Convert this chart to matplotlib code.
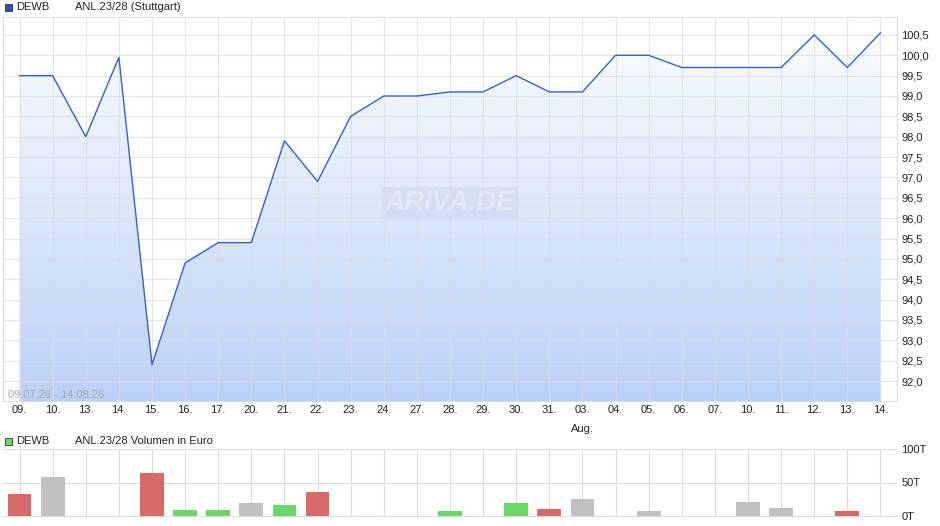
import matplotlib
matplotlib.use("Agg")
import matplotlib.pyplot as plt
import numpy as np
from matplotlib.patches import Rectangle

plt.rcParams['font.family'] = ['Liberation Sans', 'DejaVu Sans']

dates = ["09.", "10.", "13.", "14.", "15.", "16.", "17.", "20.", "21.", "22.", "23.", "24.",
         "27.", "28.", "29.", "30.", "31.", "03.", "04.", "05.", "06.", "07.", "10.", "11.",
         "12.", "13.", "14."]
prices = [99.5, 99.5, 98.0, 99.95, 92.4, 94.9, 95.4, 95.4, 97.9, 96.9, 98.5, 99.0,
          99.0, 99.1, 99.1, 99.5, 99.1, 99.1, 100.0, 100.0, 99.7, 99.7, 99.7, 99.7,
          100.5, 99.7, 100.55]
volumes = [33, 58, 0, 0, 64, 9, 9, 20, 16, 36, 0, 0,
           0, 7.5, 0, 19, 10.5, 25, 0, 7, 0, 0, 21, 12,
           0, 7, 0]
direction = ["down", "flat", "flat", "flat", "down", "up", "up", "flat", "up", "down", "flat", "flat",
             "flat", "up", "flat", "up", "down", "flat", "flat", "flat", "flat", "flat", "flat", "flat",
             "flat", "down", "flat"]
price_ticks = [92.0, 92.5, 93.0, 93.5, 94.0, 94.5, 95.0, 95.5, 96.0, 96.5, 97.0, 97.5,
               98.0, 98.5, 99.0, 99.5, 100.0, 100.5]
vol_ticks = [0, 50, 100]
vol_tick_labels = ["0T", "50T", "100T"]
month_label = "Aug."
month_index = 17

W, H = 940, 526
fig = plt.figure(figsize=(W / 100, H / 100), dpi=100)

def box(l, t, r, b):
    return [l / W, 1 - b / H, (r - l) / W, (b - t) / H]

grid_c = "#dcdcdc"
x = np.arange(len(dates))

# ---- main price axes
ax = fig.add_axes(box(3, 17, 897, 401))
ymin, ymax = 91.51, 100.94
ax.set_xlim(-0.5, len(dates) - 0.5)
ax.set_ylim(ymin, ymax)

grad = np.linspace(0, 1, 256).reshape(-1, 1)
top_c = np.array([0.99, 0.995, 1.0])
bot_c = np.array([0.73, 0.82, 0.97])
img = top_c * (1 - grad[..., None]) + bot_c * grad[..., None]
im = ax.imshow(img, extent=[-0.5, len(dates) - 0.5, ymin, ymax], aspect="auto",
               origin="upper", zorder=1)
poly = ax.fill_between(x, prices, ymin, color="none", lw=0)
clip = poly.get_paths()[0]
im.set_clip_path(clip, transform=ax.transData)

ax.plot(x, prices, color="#2f62d0", lw=1.0, zorder=3)

ax.set_xticks(x)
ax.set_xticklabels(dates, fontsize=8)
ax.set_yticks(price_ticks)
ax.set_yticklabels([f"{v:.1f}".replace(".", ",") for v in price_ticks], fontsize=8)
ax.yaxis.tick_right()
ax.tick_params(axis="both", length=0, colors="#222222")
ax.tick_params(axis="y", pad=3)
ax.tick_params(axis="x", pad=3)
ax.grid(True, color=grid_c, lw=0.8, alpha=0.75, zorder=2)
ax.set_axisbelow(False)
for s in ax.spines.values():
    s.set_color(grid_c)
    s.set_linewidth(0.8)

ax.annotate(month_label, xy=(month_index, 0), xycoords=("data", "axes fraction"),
            xytext=(0, -20), textcoords="offset points", ha="center", va="center",
            fontsize=8, color="#222222", annotation_clip=False)

ax.text(0.006, 0.008, "09.07.26 - 14.08.26", transform=ax.transAxes, fontsize=8,
        color="#a8a8a8", va="baseline", zorder=4)
ax.text(0.5, 0.515, "ARIVA.DE", transform=ax.transAxes, fontsize=20, color="white",
        fontstyle="italic", fontweight="bold", ha="center", va="center", zorder=2.5,
        alpha=0.35,
        bbox=dict(boxstyle="round,pad=0.12", fc="#b8c4d8", ec="none", alpha=0.25))

# legend
fig.add_artist(Rectangle((5 / W, 1 - 11 / H), 7 / W, 7 / H, transform=fig.transFigure,
                         fc="#2255bb", ec="#333333", lw=0.6))
fig.text(16 / W, 1 - 7 / H, "DEWB", fontsize=8, va="center", color="#222222")
fig.text(75 / W, 1 - 7 / H, "ANL.23/28 (Stuttgart)", fontsize=8, va="center", color="#222222")

# ---- volume axes
av = fig.add_axes(box(3, 449, 897, 516))
av.set_xlim(-0.5, len(dates) - 0.5)
av.set_ylim(0, 100)
cmap = {"up": "#68d868", "down": "#d96868", "flat": "#c0c0c0"}
av.bar(x, volumes, width=0.72, color=[cmap[d] for d in direction], zorder=3)
av.set_xticks(x)
av.set_xticklabels([])
av.set_yticks(vol_ticks)
av.set_yticklabels(vol_tick_labels, fontsize=8)
av.yaxis.tick_right()
av.tick_params(axis="both", length=0, colors="#222222")
av.tick_params(axis="y", pad=3)
av.grid(True, color=grid_c, lw=0.8, zorder=0)
av.set_axisbelow(True)
for side, s in av.spines.items():
    s.set_color(grid_c)
    s.set_linewidth(0.8)
av.spines["top"].set_visible(False)
av.spines["left"].set_visible(False)
av.spines["right"].set_visible(False)

fig.add_artist(Rectangle((5 / W, 1 - 445 / H), 7 / W, 7 / H, transform=fig.transFigure,
                         fc="#66d966", ec="#333333", lw=0.6))
fig.text(16 / W, 1 - 441 / H, "DEWB", fontsize=8, va="center", color="#222222")
fig.text(75 / W, 1 - 441 / H, "ANL.23/28 Volumen in Euro", fontsize=8, va="center",
         color="#222222")

fig.savefig("out.png", dpi=100)
